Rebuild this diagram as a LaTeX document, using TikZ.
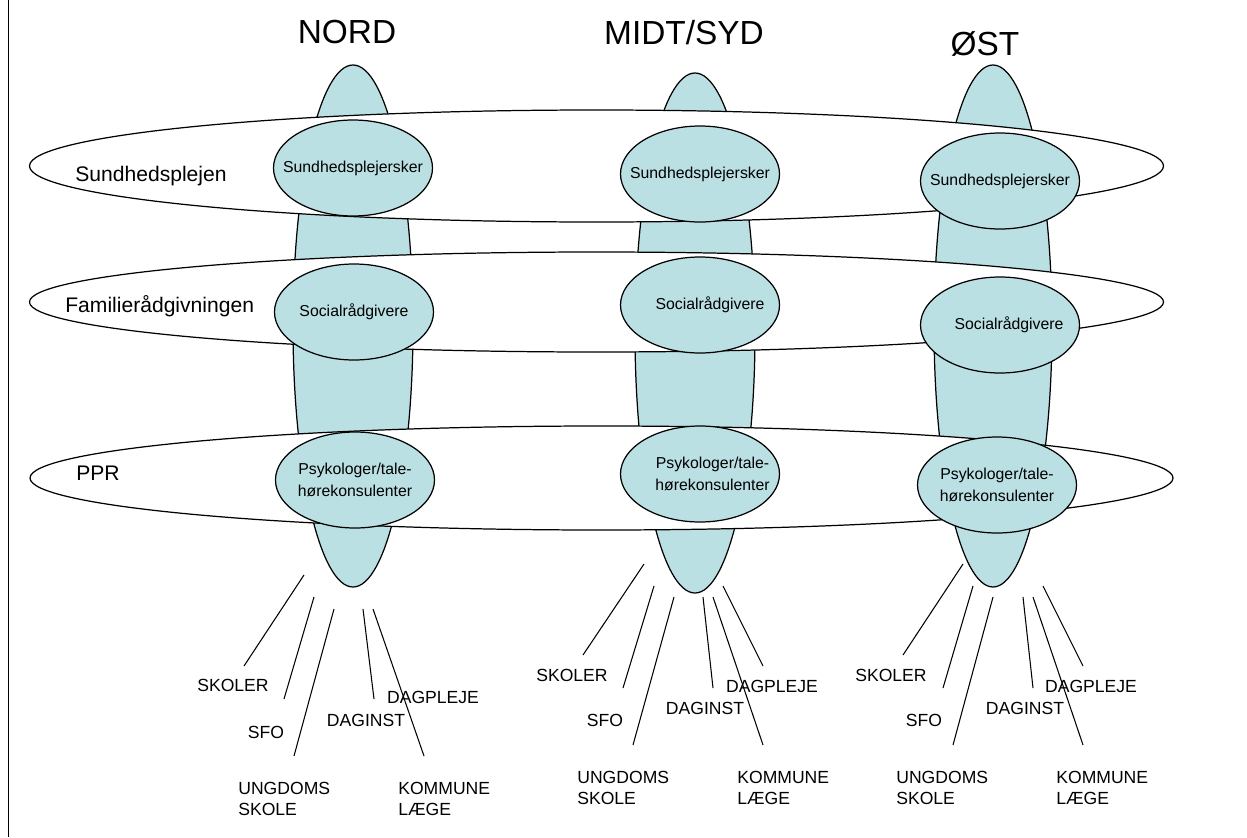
\documentclass[tikz,border=0pt]{standalone}
\usepackage{fontspec}
\setmainfont{Liberation Sans}
\usetikzlibrary{shapes.geometric}
\definecolor{colblue}{RGB}{187,224,227}

\begin{document}
\begin{tikzpicture}[
  colell/.style={ellipse, draw=black, line width=0.7pt, fill=colblue, inner sep=0pt},
  bandell/.style={ellipse, draw=black, line width=0.7pt, fill=white, inner sep=0pt},
  unitell/.style={ellipse, draw=black, line width=0.7pt, fill=colblue, inner sep=0pt, minimum width=3.18cm, minimum height=1.92cm},
  every label/.style={font=\fontsize{9}{12.5}\selectfont, align=center, inner sep=0pt},
  headtxt/.style={font=\fontsize{19}{22}\selectfont, anchor=base, inner sep=0pt},
  grouptxt/.style={font=\fontsize{12}{14}\selectfont, anchor=base west, inner sep=0pt},
  placetxt/.style={font=\fontsize{10}{12}\selectfont, inner sep=0pt},
  stacktxt/.style={placetxt, anchor=base west},
  spoke/.style={line width=0.6pt}
]

\useasboundingbox (0,0) rectangle (24.94,-16.74);
\draw[line width=0.9pt] (0.17,0) -- (0.17,-16.74);

\node[colell, minimum width=2.4cm, minimum height=10.44cm] (N_col) at (7.06,-6.52) {};
\node[colell, minimum width=2.4cm, minimum height=10.4cm] (M_col) at (13.9,-6.66) {};
\node[colell, minimum width=2.36cm, minimum height=10.44cm] (O_col) at (19.86,-6.52) {};

\node[bandell, minimum width=22.68cm, minimum height=2.24cm] (R_1) at (11.93,-3.32) {};
\node[bandell, minimum width=22.68cm, minimum height=2.0cm] (R_2) at (11.93,-6.04) {};
\node[bandell, minimum width=22.86cm, minimum height=2.08cm] (R_3) at (12.03,-9.56) {};

\node[grouptxt] (R_1t) at (1.5,-3.62) {Sundhedsplejen};
\node[grouptxt] (R_2t) at (1.3,-6.24) {Familierådgivningen};
\node[grouptxt] (R_3t) at (1.52,-9.6) {PPR};

\node[headtxt] (N_head) at (6.94,-0.86) {NORD};
\node[headtxt] (M_head) at (13.68,-0.88) {MIDT/SYD};
\node[headtxt] (O_head) at (19.7,-1.1) {ØST};

\node[unitell, label=center:Sundhedsplejersker] (N_1) at (7.06,-3.36) {};
\node[unitell, label=center:Socialrådgivere] (N_2) at (7.08,-6.24) {};
\node[unitell, label={center:Psykologer/tale-\\hørekonsulenter}] (N_3) at (7.1,-9.6) {};

\node[unitell, label=center:Sundhedsplejersker] (M_1) at (14.0,-3.48) {};
\node[unitell, label={[xshift=0.2cm]center:Socialrådgivere}] (M_2) at (14.0,-6.1) {};
\node[unitell, label={[xshift=0.25cm]center:Psykologer/tale-\\hørekonsulenter}] (M_3) at (14.0,-9.48) {};

\node[unitell, label=center:Sundhedsplejersker] (O_1) at (20.0,-3.62) {};
\node[unitell, label={[xshift=0.18cm]center:Socialrådgivere}] (O_2) at (20.0,-6.5) {};
\node[unitell, label={center:Psykologer/tale-\\hørekonsulenter}] (O_3) at (19.94,-9.7) {};

\node[placetxt] (N_skoler) at (4.66,-13.7) {SKOLER};
\node[placetxt] (N_sfo) at (5.32,-14.64) {SFO};
\node[placetxt] (N_daginst) at (7.32,-14.4) {DAGINST};
\node[placetxt] (N_dagpleje) at (8.66,-13.94) {DAGPLEJE};
\node[stacktxt] (N_ungdom) at (4.76,-15.88) {\begin{tabular}[t]{@{}l@{}}UNGDOMS\\SKOLE\end{tabular}};
\node[stacktxt] (N_laege) at (7.96,-15.88) {\begin{tabular}[t]{@{}l@{}}KOMMUNE\\LÆGE\end{tabular}};
\coordinate (N_a1) at (6.08,-11.5);
\coordinate (N_b1) at (4.88,-13.32);
\coordinate (N_a2) at (6.28,-11.94);
\coordinate (N_b2) at (5.68,-13.98);
\coordinate (N_a3) at (6.68,-12.18);
\coordinate (N_b3) at (5.88,-15.12);
\coordinate (N_a4) at (7.26,-12.18);
\coordinate (N_b4) at (7.48,-13.98);
\coordinate (N_a5) at (7.46,-12.18);
\coordinate (N_b5) at (8.48,-15.12);
\draw[spoke] (N_a1) -- (N_b1);
\draw[spoke] (N_a2) -- (N_b2);
\draw[spoke] (N_a3) -- (N_b3);
\draw[spoke] (N_a4) -- (N_b4);
\draw[spoke] (N_a5) -- (N_b5);

\node[placetxt] (M_skoler) at (11.44,-13.5) {SKOLER};
\node[placetxt] (M_sfo) at (12.1,-14.4) {SFO};
\node[placetxt] (M_daginst) at (14.1,-14.16) {DAGINST};
\node[placetxt] (M_dagpleje) at (15.44,-13.72) {DAGPLEJE};
\node[stacktxt] (M_ungdom) at (11.54,-15.66) {\begin{tabular}[t]{@{}l@{}}UNGDOMS\\SKOLE\end{tabular}};
\node[stacktxt] (M_laege) at (14.74,-15.66) {\begin{tabular}[t]{@{}l@{}}KOMMUNE\\LÆGE\end{tabular}};
\coordinate (M_a1) at (12.88,-11.28);
\coordinate (M_b1) at (11.66,-13.1);
\coordinate (M_a2) at (13.08,-11.72);
\coordinate (M_b2) at (12.46,-13.76);
\coordinate (M_a3) at (13.48,-11.94);
\coordinate (M_b3) at (12.66,-14.9);
\coordinate (M_a4) at (14.06,-11.94);
\coordinate (M_b4) at (14.26,-13.76);
\coordinate (M_a5) at (14.26,-11.94);
\coordinate (M_b5) at (15.26,-14.9);
\coordinate (M_a6) at (14.46,-11.72);
\coordinate (M_b6) at (15.26,-13.32);
\draw[spoke] (M_a1) -- (M_b1);
\draw[spoke] (M_a2) -- (M_b2);
\draw[spoke] (M_a3) -- (M_b3);
\draw[spoke] (M_a4) -- (M_b4);
\draw[spoke] (M_a5) -- (M_b5);
\draw[spoke] (M_a6) -- (M_b6);

\node[placetxt] (O_skoler) at (17.82,-13.5) {SKOLER};
\node[placetxt] (O_sfo) at (18.48,-14.4) {SFO};
\node[placetxt] (O_daginst) at (20.5,-14.16) {DAGINST};
\node[placetxt] (O_dagpleje) at (21.82,-13.72) {DAGPLEJE};
\node[stacktxt] (O_ungdom) at (17.92,-15.66) {\begin{tabular}[t]{@{}l@{}}UNGDOMS\\SKOLE\end{tabular}};
\node[stacktxt] (O_laege) at (21.12,-15.66) {\begin{tabular}[t]{@{}l@{}}KOMMUNE\\LÆGE\end{tabular}};
\coordinate (O_a1) at (19.26,-11.28);
\coordinate (O_b1) at (18.06,-13.1);
\coordinate (O_a2) at (19.46,-11.72);
\coordinate (O_b2) at (18.86,-13.76);
\coordinate (O_a3) at (19.86,-11.94);
\coordinate (O_b3) at (19.06,-14.9);
\coordinate (O_a4) at (20.46,-11.94);
\coordinate (O_b4) at (20.66,-13.76);
\coordinate (O_a5) at (20.66,-11.94);
\coordinate (O_b5) at (21.66,-14.9);
\coordinate (O_a6) at (20.86,-11.72);
\coordinate (O_b6) at (21.66,-13.32);
\draw[spoke] (O_a1) -- (O_b1);
\draw[spoke] (O_a2) -- (O_b2);
\draw[spoke] (O_a3) -- (O_b3);
\draw[spoke] (O_a4) -- (O_b4);
\draw[spoke] (O_a5) -- (O_b5);
\draw[spoke] (O_a6) -- (O_b6);

\end{tikzpicture}
\end{document}
